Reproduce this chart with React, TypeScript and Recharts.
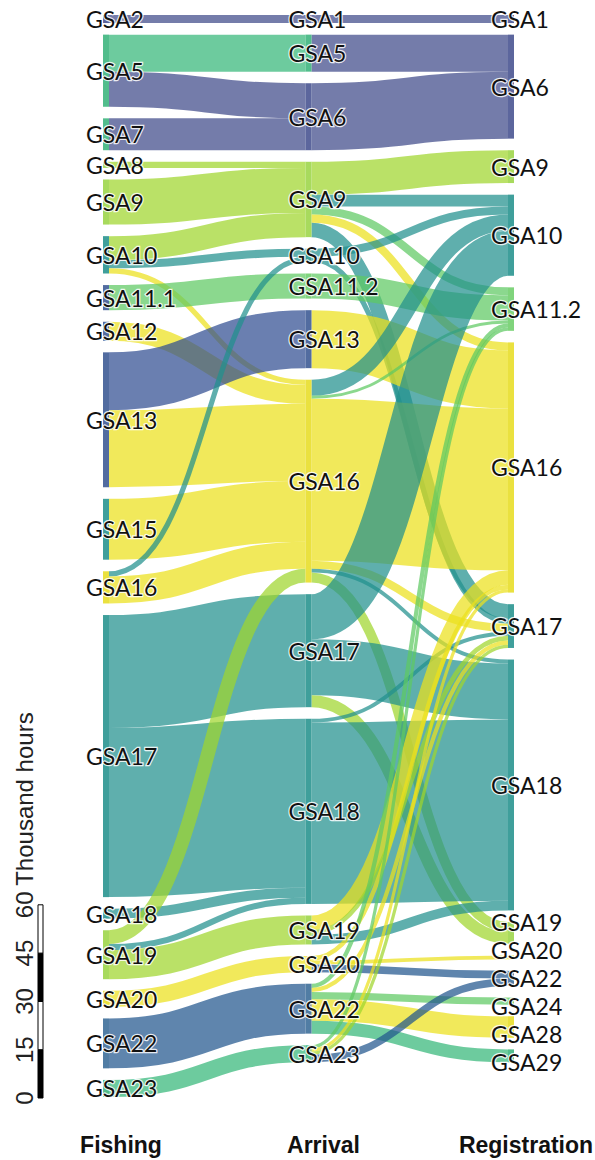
import React from 'react';
import { Sankey, BarChart, Bar, XAxis, YAxis, Label } from 'recharts';

// ---------- data (thousand hours) ----------
const fishingNodes = ['GSA2', 'GSA5', 'GSA7', 'GSA8', 'GSA9', 'GSA10', 'GSA11.1', 'GSA12', 'GSA13', 'GSA15', 'GSA16', 'GSA17', 'GSA18', 'GSA19', 'GSA20', 'GSA22', 'GSA23'];
const fishingGroups = ['purple', 'green', 'green', 'yg', 'yg', 'teal', 'indigo', 'indigo', 'indigo', 'teal', 'yellow', 'teal', 'teal', 'yg', 'yellow', 'blue', 'green'];

const arrivalNodes = ['GSA1', 'GSA5', 'GSA6', 'GSA9', 'GSA10', 'GSA11.2', 'GSA13', 'GSA16', 'GSA17', 'GSA18', 'GSA19', 'GSA20', 'GSA22', 'GSA23'];
const arrivalGroups = ['purple', 'green', 'purple', 'yg', 'teal', 'lightgreen', 'indigo', 'yellow', 'teal', 'teal', 'yg', 'yellow', 'blue', 'green'];

const registrationNodes = ['GSA1', 'GSA6', 'GSA9', 'GSA10', 'GSA11.2', 'GSA16', 'GSA17', 'GSA18', 'GSA19', 'GSA20', 'GSA22', 'GSA24', 'GSA28', 'GSA29'];
const registrationGroups = ['purple', 'purple', 'yg', 'teal', 'lightgreen', 'yellow', 'teal', 'teal', 'yg', 'yellow', 'blue', 'lightgreen', 'yellow', 'green'];

// [fishing GSA, arrival GSA, thousand hours, group]
const fishingToArrival: [string, string, number, string][] = [
  ['GSA2', 'GSA1', 2.5, 'purple'],
  ['GSA5', 'GSA5', 11.5, 'green'],
  ['GSA5', 'GSA6', 10.9, 'purple'],
  ['GSA7', 'GSA6', 9.9, 'purple'],
  ['GSA8', 'GSA9', 1.9, 'yg'],
  ['GSA9', 'GSA9', 14.0, 'yg'],
  ['GSA10', 'GSA9', 7.5, 'yg'],
  ['GSA10', 'GSA10', 2.5, 'teal'],
  ['GSA10', 'GSA16', 1.6, 'yellow'],
  ['GSA11.1', 'GSA11.2', 7.8, 'lightgreen'],
  ['GSA12', 'GSA16', 5.9, 'yellow'],
  ['GSA13', 'GSA13', 18.0, 'indigo'],
  ['GSA13', 'GSA16', 23.9, 'yellow'],
  ['GSA15', 'GSA16', 18.9, 'yellow'],
  ['GSA16', 'GSA10', 1.6, 'teal'],
  ['GSA16', 'GSA16', 8.4, 'yellow'],
  ['GSA17', 'GSA17', 35.1, 'teal'],
  ['GSA17', 'GSA18', 52.5, 'teal'],
  ['GSA18', 'GSA18', 3.1, 'teal'],
  ['GSA19', 'GSA16', 4.3, 'yg'],
  ['GSA19', 'GSA18', 1.9, 'teal'],
  ['GSA19', 'GSA19', 9.0, 'yg'],
  ['GSA20', 'GSA20', 5.0, 'yellow'],
  ['GSA22', 'GSA22', 15.5, 'blue'],
  ['GSA23', 'GSA23', 5.3, 'green'],
];

// [arrival GSA, registration GSA, thousand hours, group]
const arrivalToRegistration: [string, string, number, string][] = [
  ['GSA1', 'GSA1', 2.5, 'purple'],
  ['GSA5', 'GSA6', 11.5, 'purple'],
  ['GSA6', 'GSA6', 20.8, 'purple'],
  ['GSA9', 'GSA9', 10.2, 'yg'],
  ['GSA9', 'GSA10', 3.7, 'teal'],
  ['GSA9', 'GSA11.2', 2.5, 'lightgreen'],
  ['GSA9', 'GSA16', 2.5, 'yellow'],
  ['GSA9', 'GSA17', 4.5, 'teal'],
  ['GSA10', 'GSA10', 2.5, 'teal'],
  ['GSA10', 'GSA17', 1.6, 'teal'],
  ['GSA11.2', 'GSA11.2', 7.8, 'lightgreen'],
  ['GSA13', 'GSA16', 18.0, 'yellow'],
  ['GSA16', 'GSA10', 5.0, 'teal'],
  ['GSA16', 'GSA11.2', 0.9, 'lightgreen'],
  ['GSA16', 'GSA16', 50.3, 'yellow'],
  ['GSA16', 'GSA17', 2.5, 'yellow'],
  ['GSA16', 'GSA18', 1.2, 'teal'],
  ['GSA16', 'GSA19', 3.1, 'yg'],
  ['GSA17', 'GSA10', 14.0, 'teal'],
  ['GSA17', 'GSA18', 17.4, 'teal'],
  ['GSA17', 'GSA19', 3.7, 'yg'],
  ['GSA18', 'GSA17', 1.2, 'teal'],
  ['GSA18', 'GSA18', 56.3, 'teal'],
  ['GSA19', 'GSA16', 4.5, 'yellow'],
  ['GSA19', 'GSA17', 1.5, 'yg'],
  ['GSA19', 'GSA18', 3.0, 'teal'],
  ['GSA20', 'GSA16', 1.4, 'yellow'],
  ['GSA20', 'GSA20', 1.2, 'yellow'],
  ['GSA20', 'GSA22', 2.4, 'blue'],
  ['GSA22', 'GSA11.2', 1.3, 'lightgreen'],
  ['GSA22', 'GSA17', 1.3, 'yellow'],
  ['GSA22', 'GSA24', 2.2, 'lightgreen'],
  ['GSA22', 'GSA28', 6.7, 'yellow'],
  ['GSA22', 'GSA29', 4.0, 'green'],
  ['GSA23', 'GSA11.2', 1.0, 'lightgreen'],
  ['GSA23', 'GSA16', 1.0, 'yellow'],
  ['GSA23', 'GSA17', 1.0, 'yg'],
  ['GSA23', 'GSA22', 2.3, 'blue'],
];

const stageTitles = ['Fishing', 'Arrival', 'Registration'];
const scaleTicks = [0, 15, 30, 45, 60];
const scaleSegments = [{ name: 'scale', s1: 15, s2: 15, s3: 15, s4: 15 }];

// ---------- styles ----------
const linkColors: Record<string, string> = {
  purple: '#3e4a89',
  indigo: '#304e91',
  blue: '#21568d',
  teal: '#21908d',
  green: '#35b779',
  lightgreen: '#5ec962',
  yg: '#a0d62c',
  yellow: '#ece01c',
};
const nodeColors: Record<string, string> = {
  purple: '#4a5592',
  indigo: '#3f5c96',
  blue: '#3e6f9a',
  teal: '#2a9590',
  green: '#3fb67f',
  lightgreen: '#72cf6e',
  yg: '#9ed64b',
  yellow: '#e8de2a',
};

const PX_PER_K = 3.22;
const TOP = 15;
const INNER_H = 1082;
const LEFT = 103;
const RIGHT = 81;
const NODE_W = 6;
const LABEL_GAP = 28;
const LABEL_MIN_Y = 14;
const LABEL_MAX_Y = 1092;

// ---------- build sankey data ----------
const nodes: { name: string; group: string }[] = [];
const fIdx: Record<string, number> = {};
const aIdx: Record<string, number> = {};
const rIdx: Record<string, number> = {};
fishingNodes.forEach((n, i) => { fIdx[n] = nodes.length; nodes.push({ name: n, group: fishingGroups[i] }); });
arrivalNodes.forEach((n, i) => { aIdx[n] = nodes.length; nodes.push({ name: n, group: arrivalGroups[i] }); });
registrationNodes.forEach((n, i) => { rIdx[n] = nodes.length; nodes.push({ name: n, group: registrationGroups[i] }); });

const links = [
  ...fishingToArrival.map(([s, t, v, g]) => ({ source: fIdx[s], target: aIdx[t], value: v, group: g })),
  ...arrivalToRegistration.map(([s, t, v, g]) => ({ source: aIdx[s], target: rIdx[t], value: v, group: g })),
];
const linkGroups = links.map((l) => l.group);

const totalK = fishingToArrival.reduce((a, l) => a + l[2], 0);
const nodePadding = (INNER_H - totalK * PX_PER_K) / (fishingNodes.length - 1);

// layout node centres (raw layout space) reported while links are drawn; links are drawn before nodes
const rawCentres: Record<number, { depth: number; cy: number }> = {};

function recordNode(idx: number, n: any) {
  if (n && typeof n.y === 'number' && typeof n.dy === 'number') {
    rawCentres[idx] = { depth: n.depth, cy: n.y + n.dy / 2 };
  }
}

// spread labels of one column symmetrically so they don't collide
function spreadLabel(index: number, depth: number, cy: number, minY: number, maxY: number): number {
  const col = Object.keys(rawCentres)
    .map((k) => ({ k: Number(k), ...rawCentres[Number(k)] }))
    .filter((c) => c.depth === depth)
    .sort((a, b) => a.cy - b.cy);
  const pos = col.findIndex((c) => c.k === index);
  if (pos < 0) return cy;
  const ys = col.map((c) => c.cy);
  const n = ys.length;
  for (let it = 0; it < 400; it++) {
    let moved = false;
    for (let i = 1; i < n; i++) {
      const d = ys[i] - ys[i - 1];
      if (d < LABEL_GAP - 0.01) {
        const s = (LABEL_GAP - d) / 2;
        ys[i - 1] -= s;
        ys[i] += s;
        moved = true;
      }
    }
    if (ys[n - 1] > maxY) { ys[n - 1] = maxY; moved = true; }
    if (ys[0] < minY) { ys[0] = minY; moved = true; }
    if (!moved) break;
  }
  return ys[pos];
}

const FlowLink = (props: any) => {
  const { sourceX, targetX, sourceY, targetY, sourceControlX, targetControlX, linkWidth, index, payload } = props;
  const g = (payload && payload.group) || linkGroups[index];
  if (payload && links[index]) {
    recordNode(links[index].source, payload.source);
    recordNode(links[index].target, payload.target);
  }
  const d = `M${sourceX},${sourceY} C${sourceControlX},${sourceY} ${targetControlX},${targetY} ${targetX},${targetY}`;
  return <path d={d} fill="none" stroke={linkColors[g]} strokeOpacity={0.72} strokeWidth={Math.max(linkWidth, 1)} />;
};

const StageNode = (props: any) => {
  const { x, y, width, height, index, payload } = props;
  const g = (payload && payload.group) || nodes[index].group;
  const name = (payload && payload.name) || nodes[index].name;
  let ly = y + height / 2;
  if (payload && typeof payload.y === 'number' && typeof payload.depth === 'number') {
    const offset = y - payload.y;
    const rawCy = payload.y + payload.dy / 2;
    ly = spreadLabel(index, payload.depth, rawCy, LABEL_MIN_Y - offset, LABEL_MAX_Y - offset) + offset;
  }
  return (
    <g>
      <rect x={x} y={y} width={width} height={height} fill={nodeColors[g]} fillOpacity={0.9} />
      <text
        x={x - 17}
        y={ly}
        dominantBaseline="central"
        fontFamily="Lato, 'Open Sans', sans-serif"
        fontSize={23}
        fill="#111"
        stroke="#ffffff"
        strokeWidth={2.5}
        strokeOpacity={0.85}
        paintOrder="stroke"
      >
        {name}
      </text>
    </g>
  );
};

const ScaleTick = (props: any) => {
  const { y, payload } = props;
  return (
    <text
      x={33}
      y={y}
      transform={`rotate(-90, 33, ${y})`}
      textAnchor="middle"
      fontFamily="'Liberation Sans', Arial, sans-serif"
      fontSize={24}
      fill="#222"
    >
      {payload.value}
    </text>
  );
};

const UnitLabel = (props: any) => {
  const vb = props.viewBox || { y: 905 };
  const y = vb.y - 19;
  return (
    <text
      x={33}
      y={y}
      transform={`rotate(-90, 33, ${y})`}
      textAnchor="start"
      fontFamily="'Liberation Sans', Arial, sans-serif"
      fontSize={24}
      fill="#222"
    >
      Thousand hours
    </text>
  );
};

const SCALE_TOP = 660;
const SCALE_H = 460;
const SCALE_BOTTOM_Y = 1098;

export default function App() {
  const innerW = 595 - LEFT - RIGHT;
  const colX = [0, 1, 2].map((d) => LEFT + (d * (innerW - NODE_W)) / 2);
  const scalePlotH = 60 * PX_PER_K;
  return (
    <div style={{ position: 'absolute', left: 0, top: 0, width: 595, height: 1160, background: '#fff' }}>
      <div style={{ position: 'absolute', left: 0, top: 0 }}>
        <Sankey
          width={595}
          height={1160}
          data={{ nodes, links }}
          nodeWidth={NODE_W}
          nodePadding={nodePadding}
          iterations={0}
          sort={false}
          linkCurvature={0.5}
          margin={{ top: TOP, right: RIGHT, bottom: 1160 - TOP - INNER_H, left: LEFT }}
          node={<StageNode />}
          link={<FlowLink />}
        />
      </div>
      <div style={{ position: 'absolute', left: 0, top: SCALE_TOP }}>
        <BarChart
          width={60}
          height={SCALE_H}
          data={scaleSegments}
          margin={{ top: SCALE_BOTTOM_Y - SCALE_TOP - scalePlotH, right: 13, bottom: SCALE_TOP + SCALE_H - SCALE_BOTTOM_Y, left: 0 }}
          barSize={5}
        >
          <XAxis dataKey="name" hide />
          <YAxis
            type="number"
            domain={[0, 60]}
            ticks={scaleTicks}
            interval={0}
            width={34}
            axisLine={false}
            tickLine={false}
            tick={<ScaleTick />}
          >
            <Label content={<UnitLabel />} />
          </YAxis>
          <Bar dataKey="s1" stackId="a" fill="#000" stroke="#000" strokeWidth={1} isAnimationActive={false} />
          <Bar dataKey="s2" stackId="a" fill="#fff" stroke="#000" strokeWidth={1} isAnimationActive={false} />
          <Bar dataKey="s3" stackId="a" fill="#000" stroke="#000" strokeWidth={1} isAnimationActive={false} />
          <Bar dataKey="s4" stackId="a" fill="#fff" stroke="#000" strokeWidth={1} isAnimationActive={false} />
        </BarChart>
      </div>
      <svg style={{ position: 'absolute', left: 0, top: 1110 }} width={595} height={50}>
        {stageTitles.map((t, i) => (
          <text
            key={t}
            x={colX[i] + 18}
            y={43}
            textAnchor="middle"
            fontFamily="'Liberation Sans', Arial, sans-serif"
            fontWeight="bold"
            fontSize={23}
            fill="#111"
          >
            {t}
          </text>
        ))}
      </svg>
    </div>
  );
}
